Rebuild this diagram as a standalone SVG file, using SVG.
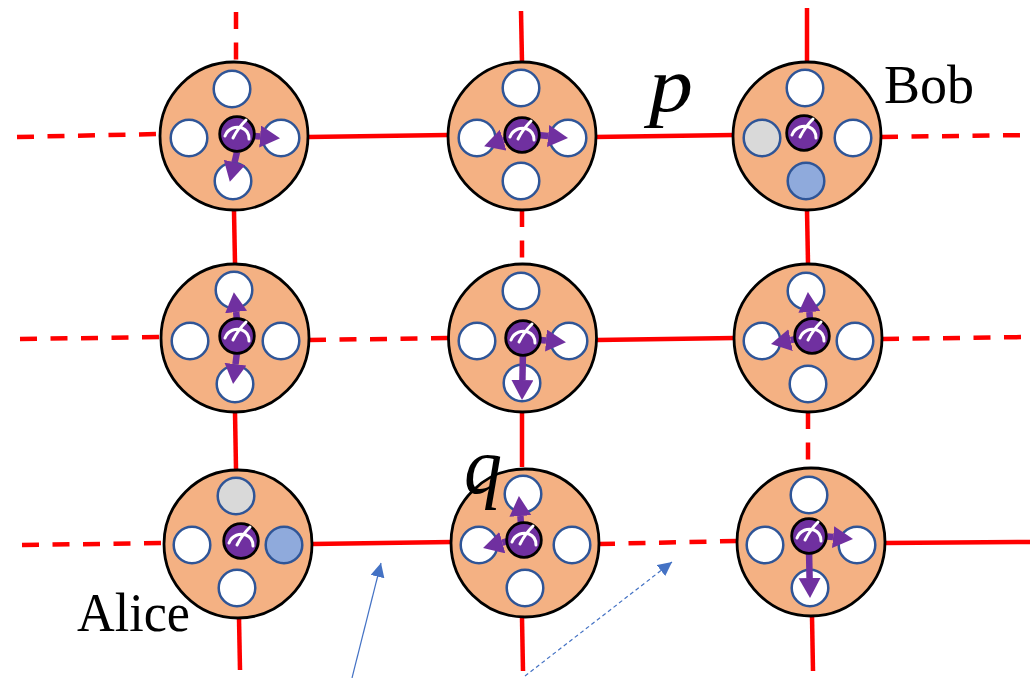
<svg xmlns="http://www.w3.org/2000/svg" width="1036" height="678" viewBox="0 0 1036 678">
<style>
.l{stroke:#ff0000;stroke-width:4.5;fill:none}
.d{stroke-dasharray:17 13.5}
.o{fill:#f4b183;stroke:#000;stroke-width:2.8}
.s{fill:#fff;stroke:#2f5597;stroke-width:2.5}
.g{fill:#d9d9d9}
.b{fill:#8faadc}
.m{fill:#7030a0;stroke:#000;stroke-width:2.8}
.n{fill:none;stroke:#fff;stroke-width:3;stroke-linecap:round}
.a{stroke:#7030a0;stroke-width:6.5;fill:none;marker-end:url(#pa)}
.t{font-family:"Liberation Serif",serif;fill:#000}
.i{font-style:italic}
.u{stroke:#4472c4;fill:none;marker-end:url(#ba)}
</style>
<defs>
<marker id="pa" markerUnits="userSpaceOnUse" markerWidth="21" markerHeight="24" refX="0" refY="11" orient="auto"><path d="M0 0L20 11L0 22Z" fill="#7030a0"/></marker>
<marker id="ba" markerUnits="userSpaceOnUse" markerWidth="16" markerHeight="16" refX="14" refY="7" orient="auto"><path d="M0 0L14 7L0 14Z" fill="#4472c4"/></marker>
<g id="meter">
<circle class="m" r="17.3"/>
<path class="n" d="M-12 2C-9 -6 -1 -8 5 -6C10 -4 12 0 12 5M-4 4C-1 -2 3 -8 9 -14"/>
</g>
</defs>
<g id="connectors">
<path class="l d" d="M17 137L160 134"/><path class="l" d="M308 137L448 135"/><path class="l" d="M594 137L734 135"/><path class="l d" d="M881 137L1030 135"/>
<path class="l d" d="M20 339L161 337"/><path class="l d" d="M309 340L449 338"/><path class="l" d="M597 340L735 338"/><path class="l d" d="M882 339L1030 337"/>
<path class="l d" d="M22 545L164 543"/><path class="l" d="M312 544L452 542"/><path class="l d" d="M598 544L737 541"/><path class="l" d="M885 543L1030 542"/>
<path class="l d" d="M236 12L236 61"/><path class="l" d="M234 211L235 263"/><path class="l" d="M235 412L236 469"/><path class="l" d="M239 618L240 670"/>
<path class="l" d="M521 11L522 62"/><path class="l d" d="M522 210L522 264"/><path class="l" d="M522 412L522 467"/><path class="l" d="M522 618L523 671"/>
<path class="l" d="M807 8L807 62"/><path class="l" d="M807 210L808 263"/><path class="l d" d="M808 412L808 468"/><path class="l" d="M812 616L813 671"/>
<path class="u" stroke-width="1.2" d="M352 678L381 563"/>
<path class="u" stroke-width="1.2" stroke-dasharray="4 3" d="M525 676L672 562"/>
</g>
<g id="n11"><circle class="o" cx="234" cy="136" r="74"/><circle class="s" cx="232" cy="89" r="18.3"/><circle class="s" cx="189" cy="138" r="18.3"/><circle class="s" cx="281" cy="138" r="18.3"/><circle class="s" cx="233" cy="181" r="18.3"/><path class="a" d="M254 136L260.1 136.5"/><path class="a" d="M237 152L234.5 162.4"/><use href="#meter" x="237" y="134"/></g>
<g id="n12"><circle class="o" cx="522" cy="136" r="74"/><circle class="s" cx="521" cy="88" r="18.3"/><circle class="s" cx="477" cy="138" r="18.3"/><circle class="s" cx="568" cy="138" r="18.3"/><circle class="s" cx="521" cy="181" r="18.3"/><path class="a" d="M507 139L503.2 140.2"/><path class="a" d="M538 135L548.1 136"/><use href="#meter" x="522" y="135"/></g>
<g id="n13"><circle class="o" cx="807" cy="136" r="74"/><circle class="s" cx="805" cy="88" r="18.3"/><circle class="s g" cx="762" cy="138" r="18.3"/><circle class="s" cx="853" cy="138" r="18.3"/><circle class="s b" cx="806" cy="181" r="18.3"/><use href="#meter" x="804" y="133"/></g>
<g id="n21"><circle class="o" cx="235" cy="338" r="74"/><circle class="s" cx="234" cy="290" r="18.3"/><circle class="s" cx="190" cy="341" r="18.3"/><circle class="s" cx="281" cy="341" r="18.3"/><circle class="s" cx="235" cy="384" r="18.3"/><path class="a" d="M237 320L236.1 312"/><path class="a" d="M237 352L235.5 364.2"/><use href="#meter" x="237" y="336"/></g>
<g id="n22"><circle class="o" cx="522.5" cy="338" r="74"/><circle class="s" cx="521" cy="291" r="18.3"/><circle class="s" cx="477" cy="341" r="18.3"/><circle class="s" cx="569" cy="341" r="18.3"/><circle class="s" cx="522" cy="383" r="18.3"/><path class="a" d="M540 340L546 340.5"/><path class="a" d="M523 350L522.4 380"/><use href="#meter" x="523" y="338"/></g>
<g id="n23"><circle class="o" cx="808" cy="338" r="74"/><circle class="s" cx="806" cy="291" r="18.3"/><circle class="s" cx="762" cy="341" r="18.3"/><circle class="s" cx="855" cy="341" r="18.3"/><circle class="s" cx="808" cy="384" r="18.3"/><path class="a" d="M810 320L809.4 312"/><path class="a" d="M796 339L790.6 340.1"/><use href="#meter" x="812" y="336"/></g>
<g id="n31"><circle class="o" cx="238" cy="544" r="74"/><circle class="s g" cx="236" cy="496" r="18.3"/><circle class="s" cx="192" cy="545" r="18.3"/><circle class="s b" cx="284" cy="545" r="18.3"/><circle class="s" cx="237" cy="588" r="18.3"/><use href="#meter" x="241" y="541"/></g>
<g id="n32"><circle class="o" cx="525" cy="543" r="74"/><circle class="s" cx="523" cy="494" r="18.3"/><circle class="s" cx="479" cy="545" r="18.3"/><circle class="s" cx="572" cy="545" r="18.3"/><circle class="s" cx="525" cy="588" r="18.3"/><path class="a" d="M521 524L520.4 516"/><path class="a" d="M508 541L502.3 542.6"/><use href="#meter" x="524" y="540"/></g>
<g id="n33"><circle class="o" cx="811" cy="542" r="74"/><circle class="s" cx="809" cy="495" r="18.3"/><circle class="s" cx="765" cy="545" r="18.3"/><circle class="s" cx="857" cy="545" r="18.3"/><circle class="s" cx="810" cy="588" r="18.3"/><path class="a" d="M827 536.5L833.1 537.1"/><path class="a" d="M809 550L809.6 578"/><use href="#meter" x="809" y="536"/></g>
<g id="labels">
<text class="t" x="884" y="103" font-size="54" textLength="90" lengthAdjust="spacingAndGlyphs">Bob</text>
<text class="t" x="77" y="631" font-size="54" textLength="113" lengthAdjust="spacingAndGlyphs">Alice</text>
<text class="t i" x="649" y="111" font-size="78" textLength="44" lengthAdjust="spacingAndGlyphs">p</text>
<text class="t i" x="464" y="493" font-size="80" textLength="38" lengthAdjust="spacingAndGlyphs">q</text>
</g>
</svg>
